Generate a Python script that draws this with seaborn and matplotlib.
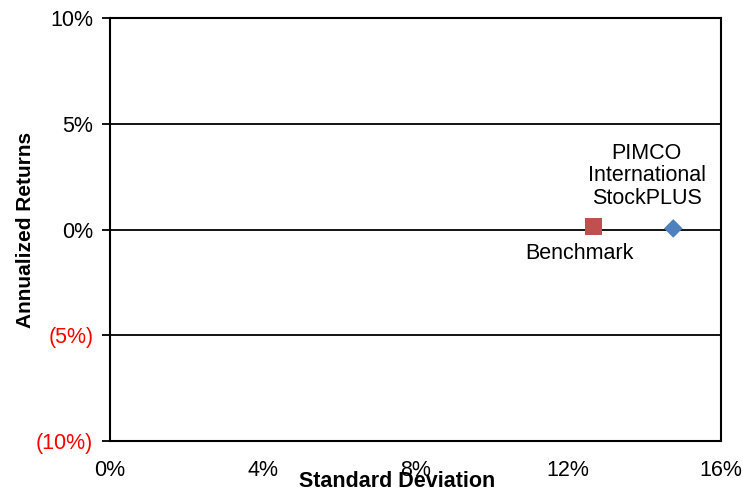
import matplotlib
matplotlib.use("Agg")
import matplotlib.pyplot as plt
import seaborn as sns
import pandas as pd
from matplotlib.ticker import FixedLocator

names = ["Benchmark", "PIMCO\nInternational\nStockPLUS"]
std_dev = [12.65, 14.75]
returns = [0.12, 0.05]
colors = ["#C0504D", "#4F81BD"]
markers = ["s", "D"]
x_ticks = [0, 4, 8, 12, 16]
y_ticks = [-10, -5, 0, 5, 10]

sns.set_style("white")
plt.rcParams["font.family"] = ["Liberation Sans", "DejaVu Sans"]
plt.rcParams["text.color"] = "black"
plt.rcParams["axes.labelcolor"] = "black"
plt.rcParams["xtick.color"] = "black"
plt.rcParams["ytick.color"] = "black"

fig = plt.figure(figsize=(7.43, 4.94), dpi=100)
ax = fig.add_axes([110/743, 1-441/494, (721-110)/743, (441-18)/494])

df = pd.DataFrame({"name": names, "sd": std_dev, "ret": returns})
for i in range(len(df)):
    sns.scatterplot(data=df.iloc[[i]], x="sd", y="ret", ax=ax, marker=markers[i],
                    color=colors[i], s=150 if i == 0 else 90, edgecolor="none", zorder=5, legend=False)

FS = 15.5
ax.set_xlim(0, 16)
ax.set_ylim(-10, 10)
ax.xaxis.set_major_locator(FixedLocator(x_ticks))
ax.yaxis.set_major_locator(FixedLocator(y_ticks))
ax.set_xticklabels([f"{v}%" for v in x_ticks], fontsize=FS)
ylabels = [f"({abs(v)}%)" if v < 0 else f"{v}%" for v in y_ticks]
ax.set_yticklabels(ylabels, fontsize=FS)
for lbl, v in zip(ax.get_yticklabels(), y_ticks):
    if v < 0:
        lbl.set_color("red")

for v in [-5, 0, 5]:
    ax.axhline(v, color="black", lw=1.3, zorder=1)

for s in ax.spines.values():
    s.set_color("black")
    s.set_linewidth(1.5)
ax.tick_params(axis="y", left=True, length=6, width=1.3, color="black", pad=6)
ax.tick_params(axis="x", bottom=False, pad=10)

ax.set_xlabel("Standard Deviation", fontsize=15.5, fontweight="bold")
ax.xaxis.set_label_coords(0.47, -0.072)
ax.set_ylabel("Annualized Returns", fontsize=15, fontweight="bold")
ax.yaxis.set_label_coords(-0.122, 0.5)

ax.text(std_dev[1] - 0.7, returns[0] + 0.85, names[1], ha="center", va="bottom",
        fontsize=FS, linespacing=1.1)
ax.text(std_dev[0] - 0.35, returns[0] - 0.75, names[0], ha="center", va="top", fontsize=FS)

fig.savefig("out.png", dpi=100)
